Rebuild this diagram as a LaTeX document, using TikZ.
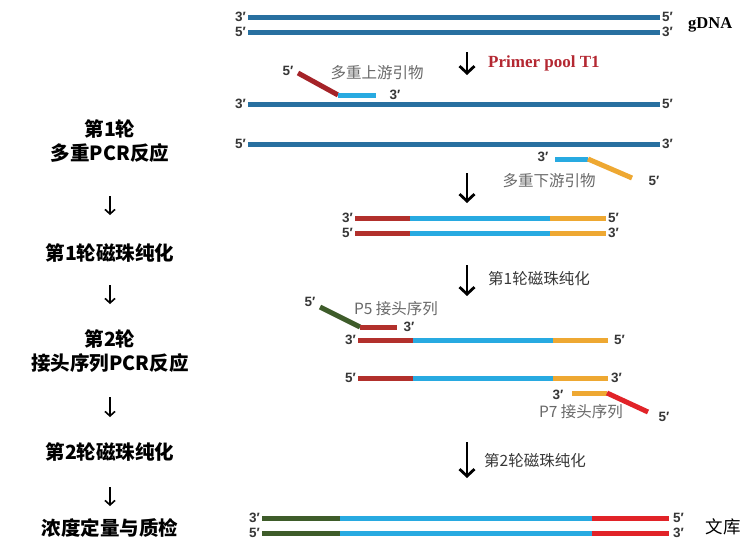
\documentclass[tikz,border=0pt]{standalone}
\usepackage{fontspec}
\setmainfont{Liberation Serif}
\newfontfamily\cjk{Noto Sans CJK SC}
\newfontfamily\lab{Liberation Sans}
\usetikzlibrary{arrows.meta}
\definecolor{gdna}{RGB}{40,112,160}
\definecolor{lblue}{RGB}{40,170,225}
\definecolor{dred}{RGB}{178,48,44}
\definecolor{pred}{RGB}{165,35,40}
\definecolor{yel}{RGB}{238,168,50}
\definecolor{grn}{RGB}{62,92,42}
\definecolor{bred}{RGB}{225,35,40}
\definecolor{ttred}{RGB}{180,40,50}
\definecolor{gtxt}{RGB}{105,105,105}
\definecolor{ltxt}{RGB}{55,55,55}
\tikzset{
  strand/.style={line width=5pt, line cap=butt},
  endlab/.style={font=\lab\bfseries\fontsize{13.5}{15}\selectfont, text=ltxt, inner sep=0pt},
  graylab/.style={font=\cjk\fontsize{15.5}{18}\selectfont, text=gtxt, inner sep=0pt},
  steplab/.style={font=\cjk\bfseries\fontsize{19.5}{23.5}\selectfont, align=center, inner sep=0pt},
  bigarrow/.style={line width=2.8pt, -{Straight Barb[length=7pt,width=15pt,line width=2.8pt]}},
  smallarrow/.style={line width=1.6pt, -{Straight Barb[length=4.5pt,width=10pt,line width=1.6pt]}}
}
\begin{document}
\begin{tikzpicture}[x=1pt,y=-1pt]
\path[use as bounding box, fill=white] (0,0) rectangle (752,546);

% ---------- left column ----------
\node[steplab] (s1) at (110,141) {第1轮\\多重PCR反应};
\node[steplab] (s2) at (110,253) {第1轮磁珠纯化};
\node[steplab] (s3) at (110,351) {第2轮\\接头序列PCR反应};
\node[steplab] (s4) at (110,452) {第2轮磁珠纯化};
\node[steplab] (s5) at (110,528) {浓度定量与质检};
\coordinate (la1) at (110,196); \coordinate (lb1) at (110,215);
\coordinate (la2) at (110,285); \coordinate (lb2) at (110,304);
\coordinate (la3) at (110,397); \coordinate (lb3) at (110,417);
\coordinate (la4) at (110,487); \coordinate (lb4) at (110,506);
\draw[smallarrow] (la1) -- (lb1);
\draw[smallarrow] (la2) -- (lb2);
\draw[smallarrow] (la3) -- (lb3);
\draw[smallarrow] (la4) -- (lb4);

% ---------- gDNA ----------
\coordinate (g1a) at (248,17); \coordinate (g1b) at (660,17);
\coordinate (g2a) at (248,32); \coordinate (g2b) at (660,32);
\draw[strand, gdna] (g1a) -- (g1b);
\draw[strand, gdna] (g2a) -- (g2b);
\node[endlab, anchor=east] (g1l) at ([xshift=-2pt]g1a) {3′};
\node[endlab, anchor=east] (g2l) at ([xshift=-2pt]g2a) {5′};
\node[endlab, anchor=west] (g1r) at ([xshift=2pt]g1b) {5′};
\node[endlab, anchor=west] (g2r) at ([xshift=2pt]g2b) {3′};
\node[font=\bfseries\fontsize{16.5}{18}\selectfont, anchor=west, inner sep=0pt] (gdnalab) at (688,25) {gDNA};

% arrow 1
\coordinate (a1s) at (467,52); \coordinate (a1e) at (467,75);
\draw[bigarrow] (a1s) -- (a1e);
\node[font=\bfseries\fontsize{17}{19}\selectfont, text=ttred, anchor=west, inner sep=0pt] (pool) at (488,63) {Primer pool T1};

% ---------- round 1 ----------
% upstream primer
\coordinate (up0) at (298,73); \coordinate (up1) at (338,95); \coordinate (up2) at (376,95);
\draw[strand, pred] (up0) -- (up1);
\draw[strand, lblue] (up1) -- (up2);
\node[endlab] (up5) at (288,71) {5′};
\node[endlab] (up3) at (395,95) {3′};
\node[graylab] (uptxt) at (377,73) {多重上游引物};

\coordinate (r1a) at (248,104); \coordinate (r1b) at (660,104);
\coordinate (r2a) at (248,144); \coordinate (r2b) at (660,144);
\draw[strand, gdna] (r1a) -- (r1b);
\draw[strand, gdna] (r2a) -- (r2b);
\node[endlab, anchor=east] (r1l) at ([xshift=-2pt]r1a) {3′};
\node[endlab, anchor=west] (r1r) at ([xshift=2pt]r1b) {5′};
\node[endlab, anchor=east] (r2l) at ([xshift=-2pt]r2a) {5′};
\node[endlab, anchor=west] (r2r) at ([xshift=2pt]r2b) {3′};

% downstream primer
\coordinate (dn0) at (555,159); \coordinate (dn1) at (588,159); \coordinate (dn2) at (632,178);
\draw[strand, lblue] (dn0) -- (dn1);
\draw[strand, yel] (dn1) -- (dn2);
\node[endlab] (dn3) at (543,157) {3′};
\node[endlab] (dn5) at (654,181) {5′};
\node[graylab] (dntxt) at (549,181) {多重下游引物};

% arrow 2
\coordinate (a2s) at (467,173); \coordinate (a2e) at (467,203);
\draw[bigarrow] (a2s) -- (a2e);

% amplicon 1
\foreach \y/\l/\r [count=\i] in {218/3′/5′, 233/5′/3′}{
  \coordinate (am\i a) at (355,\y); \coordinate (am\i b) at (410,\y);
  \coordinate (am\i c) at (550,\y); \coordinate (am\i d) at (606,\y);
  \draw[strand, dred] (am\i a) -- (am\i b);
  \draw[strand, lblue] (am\i b) -- (am\i c);
  \draw[strand, yel] (am\i c) -- (am\i d);
  \node[endlab, anchor=east] (am\i l) at ([xshift=-2pt]am\i a) {\l};
  \node[endlab, anchor=west] (am\i r) at ([xshift=2pt]am\i d) {\r};
}

% arrow 3
\coordinate (a3s) at (467,265); \coordinate (a3e) at (467,296);
\draw[bigarrow] (a3s) -- (a3e);
\node[graylab, text=ltxt, anchor=west] (pur1) at (488,279) {第1轮磁珠纯化};

% ---------- round 2 ----------
% P5 primer
\coordinate (p50) at (320,307); \coordinate (p51) at (360,327); \coordinate (p52) at (397,327);
\draw[strand, grn] (p50) -- (p51);
\draw[strand, dred] (p51) -- (p52);
\node[endlab] (p55) at (310,302) {5′};
\node[endlab] (p53) at (409,327) {3′};
\node[graylab] (p5txt) at (396,309) {P5 接头序列};

\foreach \y/\l/\r [count=\i] in {340/3′/5′, 378/5′/3′}{
  \coordinate (bm\i a) at (358,\y); \coordinate (bm\i b) at (413,\y);
  \coordinate (bm\i c) at (553,\y); \coordinate (bm\i d) at (608,\y);
  \draw[strand, dred] (bm\i a) -- (bm\i b);
  \draw[strand, lblue] (bm\i b) -- (bm\i c);
  \draw[strand, yel] (bm\i c) -- (bm\i d);
  \node[endlab, anchor=east] (bm\i l) at ([xshift=-2pt]bm\i a) {\l};
}
\node[endlab, anchor=west] (bm1r) at ([xshift=6pt]bm1d) {5′};
\node[endlab, anchor=west] (bm2r) at ([xshift=3pt]bm2d) {3′};

% P7 primer
\coordinate (p70) at (572,393); \coordinate (p71) at (607,393); \coordinate (p72) at (648,412);
\draw[strand, yel] (p70) -- (p71);
\draw[strand, bred] (p71) -- (p72);
\node[endlab] (p73) at (558,395) {3′};
\node[endlab] (p75) at (664,417) {5′};
\node[graylab] (p7txt) at (581,412) {P7 接头序列};

% arrow 4
\coordinate (a4s) at (467,442); \coordinate (a4e) at (467,478);
\draw[bigarrow] (a4s) -- (a4e);
\node[graylab, text=ltxt, anchor=west] (pur2) at (484,461) {第2轮磁珠纯化};

% ---------- library ----------
\foreach \y/\l/\r [count=\i] in {518/3′/5′, 533/5′/3′}{
  \coordinate (lib\i a) at (262,\y); \coordinate (lib\i b) at (340,\y);
  \coordinate (lib\i c) at (592,\y); \coordinate (lib\i d) at (669,\y);
  \draw[strand, grn] (lib\i a) -- (lib\i b);
  \draw[strand, lblue] (lib\i b) -- (lib\i c);
  \draw[strand, bred] (lib\i c) -- (lib\i d);
  \node[endlab, anchor=east] (lib\i l) at ([xshift=-2pt]lib\i a) {\l};
  \node[endlab, anchor=west] (lib\i r) at ([xshift=4pt]lib\i d) {\r};
}
\node[font=\cjk\fontsize{17.5}{20}\selectfont, inner sep=0pt] (wenku) at (723,527) {文库};
\end{tikzpicture}
\end{document}
